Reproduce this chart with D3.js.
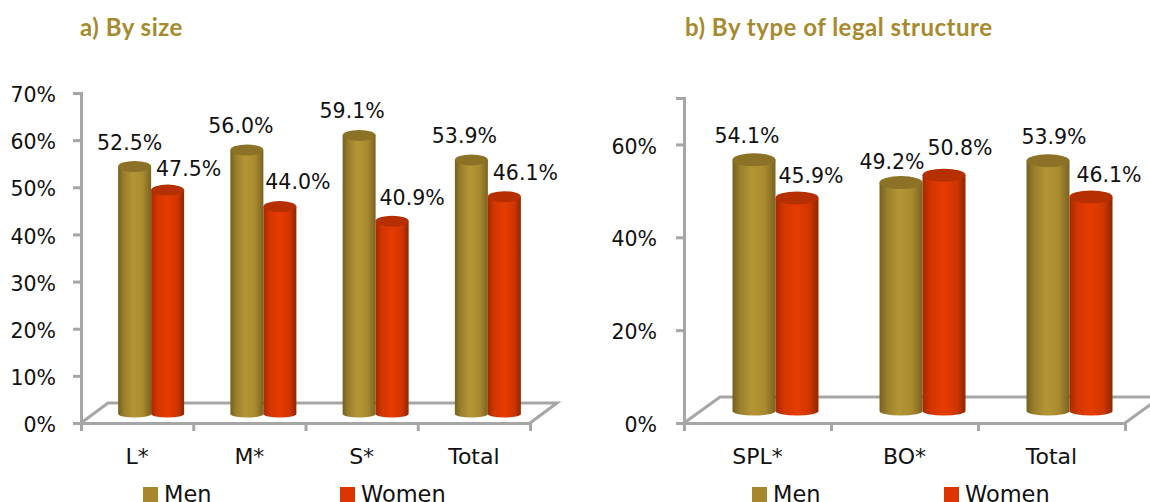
<!DOCTYPE html>
<html>
<head>
<meta charset="utf-8">
<script src="https://cdnjs.cloudflare.com/ajax/libs/d3/7.8.5/d3.min.js"></script>
<style>
	html, body { margin: 0; padding: 0; background: #fff; overflow: hidden; }
	svg { display: block; }
	text { font-family: "DejaVu Sans", sans-serif; fill: #111; }
	.title { font-family: Lato, sans-serif; font-weight: 700; font-size: 24px; letter-spacing: 0.5px; fill: #a88a2e; }
	.axis path, .axis line, .floor { stroke: #a6a6a6; stroke-width: 3px; fill: none; }
	.axis text { font-size: 20.5px; fill: #111; }
	.axis.cats text { font-size: 22px; }
</style>
</head>
<body>
<div id="chart"></div>
<script>
const seriesNames = ['Men', 'Women'];

const categoriesA = ['L*', 'M*', 'S*', 'Total'];
const menA = [52.5, 56.0, 59.1, 53.9];
const womenA = [47.5, 44.0, 40.9, 46.1];
const ticksA = [0, 10, 20, 30, 40, 50, 60, 70];

const categoriesB = ['SPL*', 'BO*', 'Total'];
const menB = [54.1, 49.2, 53.9];
const womenB = [45.9, 50.8, 46.1];
const ticksB = [0, 20, 40, 60];

const svg = d3.select('#chart').append('svg')
	.attr('width', 1150)
	.attr('height', 502);

const defs = svg.append('defs');

function cylinderGradient(id, stops) {
	const g = defs.append('linearGradient').attr('id', id);
	stops.forEach(s => g.append('stop').attr('offset', s[0]).attr('stop-color', s[1]));
}
cylinderGradient('men-side', [[0, '#75601f'], [0.18, '#9a7f2c'], [0.45, '#b59635'], [0.75, '#a98a2e'], [1, '#7a6322']]);
cylinderGradient('women-side', [[0, '#a32b00'], [0.2, '#d43600'], [0.5, '#e63c00'], [0.8, '#cf3500'], [1, '#8f2600']]);

const seriesStyle = [
	{ side: 'url(#men-side)', top: '#8c7226', swatch: '#a8872c' },
	{ side: 'url(#women-side)', top: '#b52f00', swatch: '#dc3500' }
];

function drawChart(o) {
	const x = d3.scaleBand().domain(o.categories).range([o.left, o.right]);
	const xIndex = d3.scaleLinear().domain([0, o.categories.length]).range([o.left, o.right]);
	const y = d3.scaleLinear().domain([0, 70]).range([423, o.top]);
	const g = svg.append('g');

	g.append('text').attr('class', 'title').attr('x', o.titleX).attr('y', 36).text(o.title);

	// floor of the 3d box
	g.append('path').attr('class', 'floor')
		.attr('d', d3.line()([
			[o.left, y(0)], [o.left + o.depthX, y(0) - o.depthY],
			[o.right + o.depthX, y(0) - o.depthY], [o.right, y(0)]
		]));

	// y axis
	g.append('g').attr('class', 'axis')
		.attr('transform', 'translate(' + o.left + ',0)')
		.call(d3.axisLeft(y).tickValues(o.ticks).tickSize(8).tickPadding(o.tickPad).tickFormat(d => d + '%'))
		.selectAll('text').attr('dy', '0.42em');

	// x axis, tick marks sit between the categories
	g.append('g').attr('class', 'axis')
		.attr('transform', 'translate(0,' + y(0) + ')')
		.call(d3.axisBottom(xIndex).ticks(o.categories.length).tickSize(8).tickFormat(''));
	g.append('g').attr('class', 'axis cats')
		.attr('transform', 'translate(0,' + y(0) + ')')
		.call(d3.axisBottom(x).tickSize(0).tickPadding(25))
		.select('.domain').remove();

	// cylinders
	seriesNames.forEach((name, s) => {
		const values = o.values[s];
		const bars = g.append('g').selectAll('g').data(values).enter().append('g');
		const cx = (d, i) => x(o.categories[i]) + x.bandwidth() / 2 + o.barShift + (s - 0.5) * o.barW;
		const top = d => y(d) - o.lift;
		const base = y(0) - o.lift;
		const r = o.barW / 2;

		bars.append('path')
			.attr('fill', seriesStyle[s].side)
			.attr('d', (d, i) => 'M' + (cx(d, i) - r) + ',' + top(d) +
				'L' + (cx(d, i) - r) + ',' + base +
				'A' + r + ',' + o.baseRy + ' 0 0 0 ' + (cx(d, i) + r) + ',' + base +
				'L' + (cx(d, i) + r) + ',' + top(d) + 'Z');
		bars.append('ellipse')
			.attr('cx', (d, i) => cx(d, i))
			.attr('cy', top)
			.attr('rx', r)
			.attr('ry', o.ry)
			.attr('fill', seriesStyle[s].top);
	});

	// value labels, on top of every cylinder
	seriesNames.forEach((name, s) => {
		g.append('g').selectAll('text').data(o.values[s]).enter().append('text')
			.attr('x', (d, i) => x(o.categories[i]) + x.bandwidth() / 2 + o.barShift + (s - 0.5) * o.barW + o.labelDx[s][i])
			.attr('y', (d, i) => y(d) - o.lift - o.labelDy[s][i])
			.attr('text-anchor', 'middle')
			.attr('font-size', 20.5)
			.text(d => d.toFixed(1) + '%');
	});

	// legend
	seriesNames.forEach((name, s) => {
		g.append('rect')
			.attr('x', o.legendX[s]).attr('y', 487)
			.attr('width', 15).attr('height', 15)
			.attr('fill', seriesStyle[s].swatch);
		g.append('text')
			.attr('x', o.legendX[s] + 21).attr('y', 502)
			.attr('font-size', 22.5)
			.text(name);
	});
}

drawChart({
	title: 'a) By size',
	titleX: 80,
	categories: categoriesA,
	values: [menA, womenA],
	ticks: ticksA,
	left: 81,
	right: 530,
	top: 93,
	depthX: 27,
	depthY: 20,
	lift: 9,
	barW: 33,
	barShift: 14,
	ry: 5.5,
	baseRy: 3.5,
	tickPad: 17,
	labelDy: [[17, 17, 17, 17], [14, 18, 16, 17]],
	labelDx: [[-5, -6, -7, -7], [21, 18, 20, 21]],
	legendX: [143, 340]
});

drawChart({
	title: 'b) By type of legal structure',
	titleX: 685,
	categories: categoriesB,
	values: [menB, womenB],
	ticks: ticksB,
	left: 684,
	right: 1125,
	top: 98,
	depthX: 36,
	depthY: 26,
	lift: 12,
	barW: 43,
	barShift: 18,
	ry: 6.5,
	baseRy: 4.5,
	tickPad: 19,
	labelDy: [[17, 14, 17], [15, 20, 15]],
	labelDx: [[-7, -9, 6], [14, 16, 18]],
	legendX: [752, 944]
});
</script>
</body>
</html>
